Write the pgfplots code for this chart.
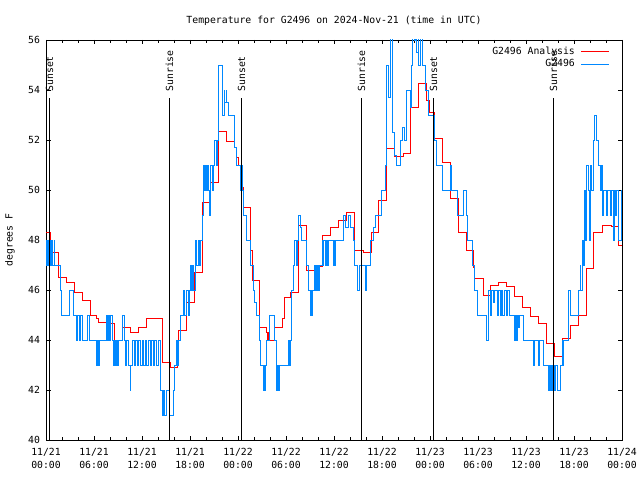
\documentclass[border=0pt]{standalone}
\usepackage{pgfplots}
\pgfplotsset{compat=1.18}
\usepackage{fontspec}
\setmainfont{DejaVu Sans Mono}
\definecolor{anared}{RGB}{255,0,0}
\definecolor{obsblue}{RGB}{0,136,255}
\newcommand\gf{\fontsize{9.8bp}{13bp}\selectfont}
\begin{document}
\begin{tikzpicture}[font=\gf]
\begin{axis}[
  name=ax,
  scale only axis, width=576bp, height=400bp,
  xmin=0, xmax=72, ymin=40, ymax=56,
  xtick={0,6,...,72},
  xticklabels={{11/21\\00:00},{11/21\\06:00},{11/21\\12:00},{11/21\\18:00},
               {11/22\\00:00},{11/22\\06:00},{11/22\\12:00},{11/22\\18:00},
               {11/23\\00:00},{11/23\\06:00},{11/23\\12:00},{11/23\\18:00},
               {11/24\\00:00}},
  minor xtick={2,4,8,10,14,16,20,22,26,28,32,34,38,40,44,46,50,52,56,58,62,64,68,70},
  ytick={40,42,...,56},
  tick pos=both, tick align=inside,
  major tick length=4.5bp, minor tick length=2.7bp,
  tick style={black, line width=0.7bp},
  axis line style={line width=0.8bp},
  xticklabel style={align=center, font=\gf, yshift=-5bp},
  yticklabel style={font=\gf, xshift=-2.5bp},
  /pgf/number format/assume math mode=true,
  title={Temperature for G2496 on 2024-Nov-21 (time in UTC)},
  every axis title/.style={at={(axis description cs:0.5,1)}, anchor=base, yshift=16bp, font=\gf},
  ylabel={degrees F},
  ylabel style={at={(axis description cs:-0.0625,0.5)}, anchor=center, font=\gf},
  clip mode=individual,
  legend plot pos=right,
  legend cell align=right,
  legend style={draw=none, fill=none, font=\gf, inner sep=0pt,
    at={(axis cs:70.5,55.80)}, anchor=north east,
    row sep=0pt, column sep=5bp,
    nodes={inner sep=1bp, text height=8bp, text depth=2.5bp}},
  legend image code/.code={\draw[#1] (0bp,0bp) -- (28bp,0bp);},
]
\addplot[const plot, anared, line width=0.9bp] coordinates {
(0,48.3) (0.58,47.5) (1.58,46.5) (2.58,46.3) (3.58,45.9) (4.58,45.6) (5.58,45.0)
(6.3,44.85) (6.58,44.7) (7.58,44.65) (8.58,44.0) (9.58,44.5) (10.58,44.3)
(11.58,44.5) (12.58,44.85) (13.58,44.85) (14.58,43.1) (15.58,42.9) (16.4,43.3)
(16.6,44.4) (17.58,45.5) (18.58,46.7) (19.58,49.5) (20.58,50.3) (21.58,52.35)
(22.58,51.95) (23.58,51.7) (23.8,51.3) (24.0,51.0) (24.3,50.1) (24.67,49.3)
(25.6,47.6) (25.75,46.4) (26.67,44.5) (27.58,44.3) (27.7,44.0) (27.8,44.3)
(27.9,44.0) (28.6,44.5) (29.6,44.85) (29.75,45.7) (30.6,45.9) (31.5,48.6)
(32.6,46.8) (33.6,46.95) (34.6,48.2) (35.5,48.5) (36.5,48.8) (37.6,49.1)
(38.6,47.6) (39.7,47.5) (40.7,48.3) (41.6,49.6) (42.6,51.65) (43.6,51.35)
(44.7,51.45) (45.6,53.3) (46.5,54.25) (47.5,53.6) (47.9,53.1) (48.5,52.05)
(49.5,51.1) (50.5,49.65) (51.5,48.3) (52.6,47.6) (53.4,46.9) (53.6,46.45)
(54.7,45.8) (55.5,46.2) (56.5,46.3) (57.5,46.15) (58.6,45.75) (59.5,45.3)
(60.5,44.95) (61.5,44.65) (62.5,43.85) (63.6,43.35) (64.6,44.05) (65.5,44.6)
(66.5,45.0) (67.5,46.85) (68.4,48.3) (69.5,48.6) (70.7,48.55) (71.5,47.8) (72,47.8)
};
\addlegendentry{G2496 Analysis}
\addplot[const plot, obsblue, line width=0.8bp] coordinates {
(0.00,48) (0.10,47) (0.20,48) (0.35,47) (0.45,48) (0.55,47) (0.65,48) (0.80,47)
(1.00,48) (1.10,47) (1.75,46) (1.96,45) (2.92,46) (3.42,45) (3.75,44) (3.90,45)
(4.20,44) (4.30,45) (4.55,44) (5.20,45) (5.40,44) (6.25,43) (6.40,44) (6.55,43)
(6.70,44) (7.50,45) (7.65,44) (7.80,45) (7.95,44) (8.10,45) (8.25,44) (8.40,43)
(8.50,44) (8.65,43) (8.80,44) (8.95,43) (9.10,44) (9.58,45) (9.75,44) (9.90,43)
(10.10,44) (10.30,43) (10.50,42) (10.60,43) (10.80,44) (11.00,43) (11.20,44)
(11.40,43) (11.60,44) (11.80,43) (12.00,44) (12.20,43) (12.40,44) (12.60,43)
(12.80,44) (13.00,43) (13.20,44) (13.40,43) (13.60,44) (13.80,43) (14.00,44)
(14.25,42) (14.58,41) (14.70,42) (14.80,41) (15.05,42) (15.45,41) (15.90,42)
(16.10,43) (16.25,44) (16.40,43) (16.55,44) (16.75,45) (17.20,46) (17.35,45)
(17.50,46) (17.75,45) (17.90,46) (18.00,47) (18.15,46) (18.30,47) (18.45,46)
(18.62,48) (18.80,47) (19.00,48) (19.20,47) (19.30,48) (19.50,49) (19.67,51)
(19.80,50) (19.95,51) (20.10,50) (20.20,51) (20.35,50) (20.45,49) (20.55,51)
(20.80,50) (20.92,51) (21.10,52) (21.30,51) (21.40,52) (21.54,55) (22.00,53)
(22.25,54) (22.35,53.5) (22.50,54) (22.60,53.5) (22.75,53) (23.60,51.7) (23.85,51)
(24.25,50) (24.35,51) (24.50,50) (24.70,49) (25.10,48) (25.50,47) (25.90,46)
(26.10,45.5) (26.30,45) (26.70,44) (26.80,43) (27.20,42) (27.30,43) (27.35,42)
(27.45,43) (27.60,44) (27.90,45) (28.60,44) (28.80,42) (28.90,43) (29.10,42)
(29.20,43) (30.30,44) (30.40,43) (30.50,44) (30.70,46) (30.90,47) (31.00,48)
(31.30,47) (31.40,48) (31.60,49) (31.80,48.5) (31.90,48) (32.60,47) (32.80,46)
(33.00,45) (33.10,46) (33.20,45) (33.30,46) (33.60,47) (33.70,46) (33.80,47)
(33.90,46) (34.00,47) (34.10,46) (34.20,47) (34.50,48) (34.60,47) (34.70,48)
(34.90,47) (35.00,48) (35.20,47) (35.30,48) (35.90,47) (36.00,48) (36.10,47)
(36.20,48) (37.20,49) (37.40,48.5) (37.80,49) (38.10,48.5) (38.40,48) (38.50,47)
(38.90,46) (39.20,47) (39.90,46) (40.00,47) (40.50,48) (40.90,48.5) (41.20,49)
(41.90,50) (42.40,51) (42.50,52) (42.60,55) (42.80,53.7) (43.00,57)
(43.30,52.3) (43.60,51.4) (43.80,51) (44.25,52) (44.50,52.5) (44.80,52) (45.10,54)
(45.50,53.3) (45.65,55) (45.80,57) (46.10,56) (46.20,57) (46.30,55.5) (46.50,57)
(46.60,55) (46.75,56.5) (47.00,55) (47.40,54) (47.80,53) (48.60,52) (48.80,51)
(49.60,50) (50.50,51) (50.70,50) (51.40,49) (52.20,50) (52.50,49) (52.70,48)
(53.30,47) (53.60,46) (53.90,45) (55.10,44) (55.30,46) (55.50,45) (55.70,46)
(55.90,45.5) (56.10,46) (56.40,45) (56.50,46) (56.75,45) (56.90,46) (57.10,45)
(57.30,46) (57.50,45) (57.70,46) (57.90,45) (58.60,44) (58.70,45) (58.80,44)
(58.90,45) (59.00,44.5) (59.20,45) (59.70,44) (60.90,43) (61.10,44) (61.60,43)
(61.70,44) (62.20,43) (62.80,42) (62.90,43) (63.00,42) (63.20,43) (63.30,42)
(63.40,43) (63.60,42) (63.70,43) (63.90,42) (64.25,43) (64.50,44) (64.60,43)
(64.70,44) (65.30,46) (65.50,45) (66.50,46) (66.75,47) (66.85,46) (67.00,48)
(67.20,47) (67.30,50) (67.45,48) (67.60,51) (67.80,50) (67.90,48) (68.00,51)
(68.20,50) (68.40,52) (68.60,53) (68.80,52) (69.00,51) (69.25,50) (69.40,51)
(69.50,49) (69.70,50) (70.10,49) (70.20,50) (70.50,49) (70.70,50) (70.90,48)
(71.00,50) (71.20,49) (71.35,50) (71.50,48) (71.90,50) (72.00,50)
};
\addlegendentry{G2496}
\foreach \t/\lab in {0.45/Sunset, 15.43/Sunrise, 24.45/Sunset, 39.44/Sunrise, 48.45/Sunset, 63.42/Sunrise}{
  \edef\temp{\noexpand\draw[black, line width=0.8bp] (axis cs:\t,40) -- (axis cs:\t,53.67);
    \noexpand\node[rotate=90, anchor=west, inner sep=0pt, font=\noexpand\gf] at (axis cs:\t,53.93) {\lab};}
  \temp
}
\end{axis}
\pgfresetboundingbox
\path[use as bounding box] ([xshift=-46bp,yshift=-40bp]ax.south west) rectangle ([xshift=18bp,yshift=40bp]ax.north east);
\end{tikzpicture}
\end{document}
